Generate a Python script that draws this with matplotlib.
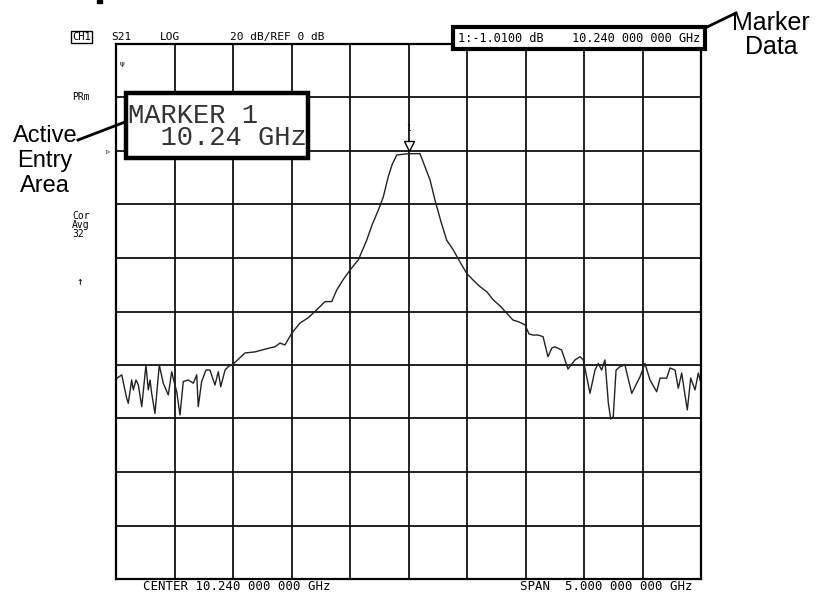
import matplotlib
matplotlib.use("Agg")
import matplotlib.pyplot as plt
import matplotlib.transforms as mtransforms
from matplotlib.patches import Rectangle

# sweep setup
center_ghz = 10.24
span_ghz = 5.0
ref_db = 0.0
db_per_div = 20.0

# trace (GHz, dB)
freq_ghz = [
    7.740, 7.746, 7.789, 7.831, 7.845, 7.874, 7.888, 7.911, 7.931, 7.960, 7.996,
    8.016, 8.031, 8.045, 8.073, 8.110, 8.144, 8.187, 8.216, 8.236, 8.259,
    8.287, 8.315, 8.358, 8.401, 8.430, 8.443, 8.472, 8.509, 8.543, 8.586,
    8.614, 8.635, 8.672, 8.700, 8.743,
    8.843, 8.928, 8.988, 9.056, 9.099, 9.142, 9.184, 9.244, 9.313, 9.381,
    9.455, 9.526, 9.584, 9.626, 9.680, 9.740, 9.811, 9.883, 9.928, 9.982,
    10.025, 10.067, 10.099, 10.139, 10.236, 10.338, 10.381, 10.424, 10.466,
    10.518, 10.566, 10.623, 10.680, 10.737, 10.791, 10.851, 10.911, 10.965,
    11.022, 11.079, 11.133, 11.184, 11.236, 11.270, 11.304, 11.347, 11.390,
    11.432, 11.466, 11.492, 11.549, 11.603, 11.663, 11.706, 11.734,
    11.791, 11.834, 11.862, 11.891, 11.919, 11.948, 11.968, 11.990, 12.014,
    12.048, 12.090, 12.148, 12.219, 12.261, 12.304, 12.361, 12.390, 12.447,
    12.475, 12.518, 12.546, 12.575, 12.603, 12.623, 12.652, 12.689, 12.717,
    12.740,
]
s21_db = [
    -86.0, -85.0, -83.7, -92.4, -94.3, -85.6, -89.3, -85.6, -87.5, -95.6, -80.0,
    -89.3, -85.6, -90.6, -98.1, -80.0, -86.8, -91.2, -82.5, -86.2, -90.0,
    -98.7, -86.2, -85.6, -86.8, -83.7, -95.6, -86.2, -81.9, -81.9, -87.5,
    -82.5, -88.1, -81.9, -80.6, -79.6,
    -75.5, -75.1, -74.4, -73.6, -73.2, -71.8, -72.5, -68.0, -64.3, -62.4,
    -59.4, -56.3, -56.3, -52.0, -48.2, -44.5, -40.7, -33.3, -27.7, -22.1,
    -17.1, -9.6, -5.2, -1.5, -1.0, -1.0, -5.9, -10.8, -18.3,
    -26.5, -33.3, -37.0, -41.5, -45.7, -48.2, -50.7, -52.7, -55.7,
    -57.9, -60.6, -63.2, -63.9, -65.0, -68.4, -68.8, -68.8, -69.4,
    -76.9, -73.6, -73.2, -74.4, -81.5, -78.1, -76.9, -78.1,
    -90.6, -81.9, -79.4, -81.9, -78.1, -94.2, -100.2, -99.3, -81.9,
    -80.6, -80.0, -90.6, -84.4, -79.4, -85.6, -90.0, -84.9, -84.9,
    -81.1, -81.9, -88.7, -83.0, -91.2, -96.8, -84.9, -89.3, -83.0,
    -86.8,
]

marker_freq = 10.24
marker_db = -1.01

W, H = 820, 594


def px(x, y):
    return x / W, 1 - y / H


fig = plt.figure(figsize=(8.2, 5.94), dpi=100)
ax = fig.add_axes([116 / W, 1 - 579 / H, (701 - 116) / W, (579 - 44) / H])

f0 = center_ghz - span_ghz / 2
f1 = center_ghz + span_ghz / 2
ax.set_xlim(f0, f1)
ax.set_ylim(ref_db - 8 * db_per_div, ref_db + 2 * db_per_div)
ax.set_xticks([f0 + i * span_ghz / 10 for i in range(11)])
ax.set_yticks([ref_db - 8 * db_per_div + i * db_per_div for i in range(11)])
ax.tick_params(length=0, labelbottom=False, labelleft=False)
ax.grid(True, color="#111111", lw=1.3)
for s in ax.spines.values():
    s.set_linewidth(1.6)

ax.plot(freq_ghz, s21_db, color="#222222", lw=1.0)

# marker symbol above the peak
up = mtransforms.offset_copy(ax.transData, fig=fig, x=0, y=8, units="dots")
ax.plot([marker_freq], [marker_db], marker="v", ms=7, mfc="white", mec="black",
        mew=1.0, transform=up)
ax.annotate("1", xy=(marker_freq, marker_db), xytext=(0, 15), textcoords="offset points",
            ha="center", va="bottom", fontsize=5.5, family="DejaVu Sans Mono")

mono = "DejaVu Sans Mono"

# header line
fig.text(*px(72, 37), "CH1", fontsize=7.5, family=mono, va="center",
         bbox=dict(boxstyle="square,pad=0.1", fc="white", ec="black", lw=1))
fig.text(*px(111, 37), "S21", fontsize=8, family=mono, va="center")
fig.text(*px(160, 37), "LOG", fontsize=8, family=mono, va="center")
fig.text(*px(230, 37), "20 dB/REF 0 dB", fontsize=8, family=mono, va="center")
fig.add_artist(Rectangle(px(97, 3), 5 / W, 3 / H, color="black", transform=fig.transFigure))

# marker data box
fig.text(*px(458, 38), "1:-1.0100 dB    10.240 000 000 GHz", fontsize=8.6, family=mono,
         va="center", bbox=dict(boxstyle="square,pad=0.4", fc="white", ec="black", lw=3))
fig.text(*px(771, 35), "Marker\nData", fontsize=18, family="Liberation Sans", ha="center",
         va="center", linespacing=1.0)
fig.add_artist(plt.Line2D([705 / W, 736 / W], [1 - 28 / H, 1 - 13 / H], color="black",
                          lw=2, transform=fig.transFigure))

# left side annotations
fig.text(*px(72, 97), "PRm", fontsize=7, family=mono, va="center")
fig.text(*px(72, 225), "Cor\nAvg\n32", fontsize=7, family=mono, va="center",
         linespacing=0.9)
fig.text(*px(80, 282), "\u2191", fontsize=8, family=mono, va="center", ha="center")
fig.text(*px(108, 151), "\u25b9", fontsize=6, family="DejaVu Sans", va="center", ha="center")
fig.text(*px(122, 64), "\u03c8", fontsize=5, family="DejaVu Sans", va="center", ha="center")

# active entry area
fig.add_artist(Rectangle(px(126, 158), (308 - 126) / W, (158 - 93) / H, fc="white",
                         ec="black", lw=3.2, transform=fig.transFigure))
fig.text(*px(128, 127), "MARKER 1\n  10.24 GHz", fontsize=19.5, family="Liberation Mono",
         va="center", linespacing=0.8, color="#333333")
fig.text(*px(45, 161), "Active\nEntry\nArea", fontsize=17, family="Liberation Sans",
         ha="center", va="center", linespacing=1.2)
fig.add_artist(plt.Line2D([78 / W, 125 / W], [1 - 140 / H, 1 - 122 / H], color="black",
                          lw=2, transform=fig.transFigure))

# footer
fig.text(*px(143, 587), "CENTER 10.240 000 000 GHz", fontsize=8.9, family=mono, va="center")
fig.text(*px(520, 587), "SPAN  5.000 000 000 GHz", fontsize=8.9, family=mono, va="center")

fig.savefig("out.png", dpi=100)
